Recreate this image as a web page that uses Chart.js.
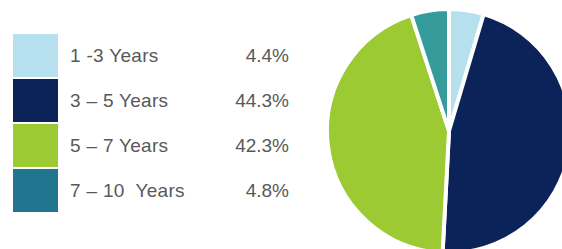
<!DOCTYPE html>
<html>
<head>
<meta charset="utf-8">
<script src="https://cdn.jsdelivr.net/npm/chart.js@4"></script>
<style>
  html, body { margin: 0; padding: 0; background: #fff; overflow: hidden; }
  body { width: 562px; height: 249px; position: relative; font-family: "Liberation Sans", Arial, sans-serif; }
  #legend { position: absolute; left: 13px; top: 34px; }
  .row { position: relative; height: 43px; margin-bottom: 2px; width: 280px; }
  .swatch { position: absolute; left: 0; top: 0; width: 45px; height: 43px; }
  .label { position: absolute; left: 57px; top: 0; line-height: 43px; font-size: 19px; color: #595959; white-space: pre; letter-spacing: 0.3px; }
  .pct { position: absolute; right: 4px; top: 0; line-height: 43px; font-size: 19px; color: #595959; }
  #pie { position: absolute; left: 325px; top: 7px; }
</style>
</head>
<body>
<div id="legend"></div>
<canvas id="pie" width="248" height="248"></canvas>
<script>
const categories = ['1 -3 Years', '3 \u2013 5 Years', '5 \u2013 7 Years', '7 \u2013 10  Years'];
const shares = [4.4, 44.3, 42.3, 4.8];
const legendColors = ['#b6e0ee', '#0b2359', '#9bca33', '#22758e'];
const sliceColors = ['#b6e0ee', '#0b2359', '#9bca33', '#359b9b'];

document.addEventListener('DOMContentLoaded', () => {
    // legend on the left
    const legend = document.getElementById('legend');
    categories.forEach((name, i) => {
        const row = document.createElement('div');
        row.className = 'row';
        row.innerHTML = `<div class="swatch" style="background:${legendColors[i]}"></div>` +
            `<span class="label">${name}</span><span class="pct">${shares[i].toFixed(1)}%</span>`;
        legend.appendChild(row);
    });

    const ctx = document.getElementById('pie').getContext('2d');
    new Chart(ctx, {
        type: 'pie',
        data: {
            labels: categories,
            datasets: [{
                data: shares,
                backgroundColor: sliceColors,
                borderColor: '#ffffff',
                borderWidth: 4
            }]
        },
        options: {
            responsive: false,
            animation: false,
            layout: { padding: 0 },
            plugins: {
                legend: { display: false },
                tooltip: { enabled: false }
            }
        }
    });
});
</script>
</body>
</html>
